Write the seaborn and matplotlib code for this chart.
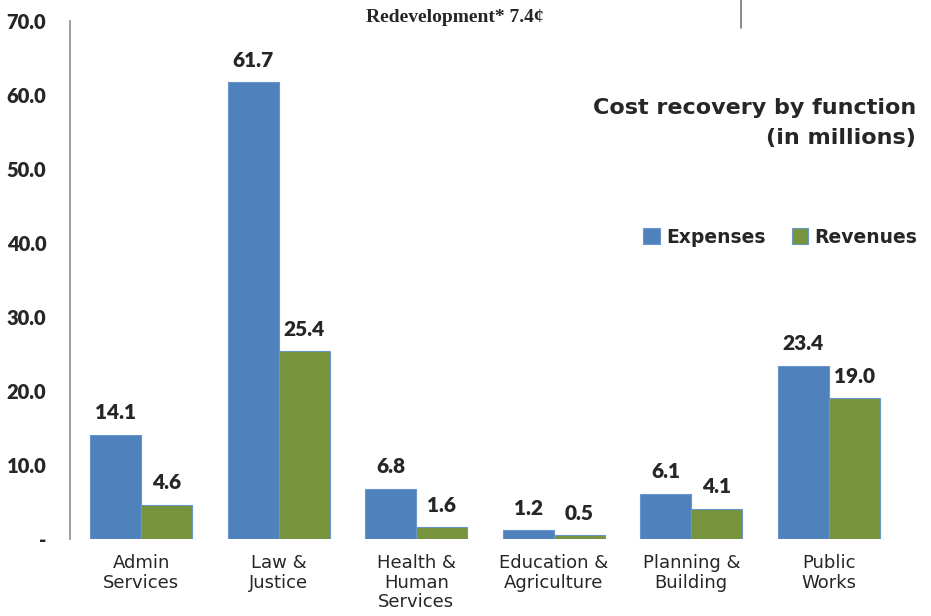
import pandas as pd
import numpy as np
import matplotlib.pyplot as plt
import matplotlib.lines as mlines
import seaborn as sns

categories = ['Admin\nServices', 'Law &\nJustice', 'Health &\nHuman\nServices',
              'Education &\nAgriculture', 'Planning &\nBuilding', 'Public\nWorks']
expenses = [14.1, 61.7, 6.8, 1.2, 6.1, 23.4]
revenues = [4.6, 25.4, 1.6, 0.5, 4.1, 19.0]
series = ['Expenses', 'Revenues']
y_ticks = [0, 10, 20, 30, 40, 50, 60, 70]
y_tick_labels = ['-', '10.0', '20.0', '30.0', '40.0', '50.0', '60.0', '70.0']

data = pd.DataFrame({
    'Function': categories * 2,
    'Series': ['Expenses'] * len(categories) + ['Revenues'] * len(categories),
    'Value': expenses + revenues,
})

sns.set_style('white')
plt.rcParams['font.family'] = ['DejaVu Sans']
narrow = ['Lato', 'DejaVu Sans']

fig = plt.figure(figsize=(9.31, 6.16), dpi=100)
ax = fig.add_axes([0.075, 0.125, 0.892, 0.841])

sns.barplot(data=data, x='Function', y='Value', hue='Series', hue_order=series,
            palette=['#4F81BD', '#77933C'], width=0.74, gap=0, saturation=1,
            edgecolor='#6A96CC', linewidth=0.8, ax=ax)

for cont in ax.containers:
    ax.bar_label(cont, fmt='%.1f', padding=9, fontsize=15, fontweight='heavy',
                 family=narrow)

ax.set_ylim(0, 70)
ax.set_xlim(-0.52, 5.52)
ax.set_yticks(y_ticks)
ax.set_yticklabels(y_tick_labels, fontsize=14.5, fontweight='heavy', family=narrow)
ax.tick_params(axis='y', length=0, pad=17)
ax.tick_params(axis='x', length=0, pad=11, labelsize=13)
for lab in ax.get_xticklabels():
    lab.set_linespacing(1.1)
ax.set_xlabel('')
ax.set_ylabel('')

for s in ['top', 'right', 'bottom']:
    ax.spines[s].set_visible(False)
ax.spines['left'].set_color('#8c8c8c')
ax.spines['left'].set_linewidth(1.2)

ax.legend(loc='upper right', bbox_to_anchor=(1.003, 0.658), bbox_transform=fig.transFigure,
          ncol=2, frameon=False, handlelength=0.9, handleheight=0.9, handletextpad=0.3,
          columnspacing=1.4, prop={'weight': 'bold', 'size': 13.5})

fig.text(0.984, 0.80, 'Cost recovery by function\n(in millions)', ha='right', va='center',
         fontsize=16, fontweight='bold', linespacing=1.6)

fig.text(0.489, 0.972, 'Redevelopment* 7.4\u00a2', ha='center', va='center',
         fontsize=14, fontweight='bold', family='Liberation Serif')
fig.add_artist(mlines.Line2D([0.796, 0.796], [0.955, 1.0], color='#777777', linewidth=1.2))

plt.savefig('out.png', dpi=100)
